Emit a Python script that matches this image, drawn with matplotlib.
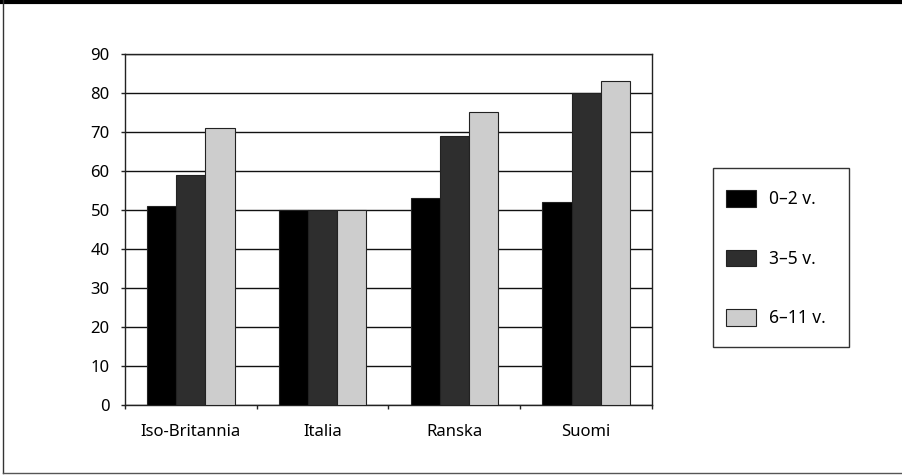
import numpy as np
import matplotlib
matplotlib.use('Agg')
import matplotlib.pyplot as plt
from matplotlib.lines import Line2D
from matplotlib.patches import Rectangle

plt.rcParams['font.family'] = ['Noto Sans', 'DejaVu Sans']

# data
maat = ['Iso-Britannia', 'Italia', 'Ranska', 'Suomi']
ryhmat = ['0\u20132 v.', '3\u20135 v.', '6\u201311 v.']
arvo_0_2 = [51, 50, 53, 52]
arvo_3_5 = [59, 50, 69, 80]
arvo_6_11 = [71, 50, 75, 83]
yticks = list(range(0, 91, 10))

colors = ['#000000', '#2e2e2e', '#cdcdcd']

W, H = 903., 476.
fig = plt.figure(figsize=(9.03, 4.76), dpi=100)
ax = fig.add_axes([125 / W, 71 / H, 527 / W, 351 / H])

x = np.arange(len(maat))
w = 0.222
series = [arvo_0_2, arvo_3_5, arvo_6_11]
for i, vals in enumerate(series):
    ax.bar(x + (i - 1) * w, vals, w, color=colors[i], edgecolor='#222222',
           linewidth=0.8, label=ryhmat[i], zorder=3)

ax.set_xlim(-0.5, len(maat) - 0.5)
ax.set_ylim(0, 90)
ax.set_yticks(yticks)
ax.yaxis.grid(True, color='#111111', linewidth=1.0, zorder=0)
ax.set_axisbelow(True)
for s in ax.spines.values():
    s.set_color('#222222')
    s.set_linewidth(1.0)

ax.set_xticks(x)
ax.set_xticklabels(maat, fontsize=12)
ax.tick_params(axis='x', length=0, pad=14)
ax.set_xticks(np.arange(len(maat) + 1) - 0.5, minor=True)
ax.tick_params(axis='x', which='minor', length=3, width=1, color='#222222')
ax.tick_params(axis='y', labelsize=12, length=3, width=1, color='#222222', pad=8)

# legend entries without frame, box drawn separately
leg = fig.legend(loc='upper left', bbox_to_anchor=(726 / W, 1 - 190 / H),
                 fontsize=12.5, frameon=False,
                 labelspacing=2.38, handlelength=1.7, handleheight=1.1,
                 handletextpad=0.75, borderpad=0, borderaxespad=0)
fig.add_artist(Rectangle((713 / W, 1 - 347 / H), 136 / W, 179 / H,
                         transform=fig.transFigure, fill=False,
                         edgecolor='#333333', linewidth=1.0))

# outer frame of the picture
fig.add_artist(Line2D([0, 1], [1 - 2 / H, 1 - 2 / H], transform=fig.transFigure,
                      color='black', linewidth=3))
fig.add_artist(Line2D([3 / W, 3 / W], [3 / H, 1], transform=fig.transFigure,
                      color='#333333', linewidth=1))
fig.add_artist(Line2D([3 / W, 1], [3 / H, 3 / H], transform=fig.transFigure,
                      color='#555555', linewidth=1))

fig.savefig('out.png', dpi=100)
